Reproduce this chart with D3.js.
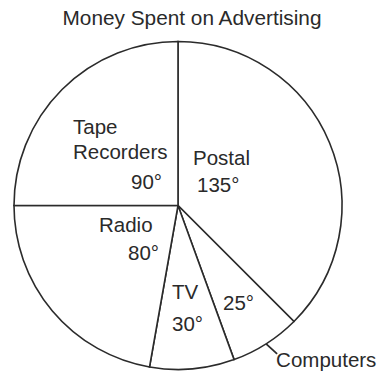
<!DOCTYPE html>
<html>
<head>
<meta charset="utf-8">
<script src="https://cdn.jsdelivr.net/npm/d3@7"></script>
<style>
  html, body { margin: 0; padding: 0; background: #fff; }
  svg text { font-family: "Liberation Sans", Arial, Helvetica, sans-serif; fill: #2a2a2a; }
</style>
</head>
<body>
<svg id="chart" width="377" height="372"></svg>
<script>
// Advertising spend, expressed as sector angles in degrees
const categories = ["Postal", "Computers", "TV", "Radio", "Tape Recorders"];
const degrees = [135, 25, 30, 80, 90];
const title = "Money Spent on Advertising";

// Label layout (offsets from the pie centre, in px)
const labelLayout = {
  "Postal":         [{ t: "Postal", dx: 15, dy: -40.5, a: "start" }, { t: "135°", dx: 19, dy: -13.5, a: "start" }],
  "Computers":      [{ t: "25°", dx: 45, dy: 104.5, a: "start" }],
  "TV":             [{ t: "TV", dx: -6, dy: 93.5, a: "start" }, { t: "30°", dx: -6, dy: 125.5, a: "start" }],
  "Radio":          [{ t: "Radio", dx: -79, dy: 26.5, a: "start" }, { t: "80°", dx: -50, dy: 54.5, a: "start" }],
  "Tape Recorders": [{ t: "Tape", dx: -105, dy: -71.5, a: "start" }, { t: "Recorders", dx: -105, dy: -46.5, a: "start" }, { t: "90°", dx: -16, dy: -16.5, a: "end" }]
};

const svg = d3.select("#chart");
const cx = 178, cy = 205.5, r = 164;

svg.append("text")
  .attr("x", 192).attr("y", 25)
  .attr("text-anchor", "middle")
  .style("font-size", "20.8px")
  .text(title);

const data = categories.map((c, i) => ({ name: c, value: degrees[i] }));
const toRad = d3.scaleLinear().domain([0, 360]).range([0, 2 * Math.PI]);

const pie = d3.pie()
  .sort(null)
  .value(d => d.value)
  .startAngle(0)
  .endAngle(toRad(d3.sum(degrees)));

const arcGen = d3.arc().innerRadius(0).outerRadius(r);

const g = svg.append("g").attr("transform", `translate(${cx},${cy})`);
const arcs = pie(data);

g.selectAll("path.slice")
  .data(arcs)
  .join("path")
  .attr("class", "slice")
  .attr("d", arcGen)
  .attr("fill", "#fff")
  .attr("stroke", "#2b2b2b")
  .attr("stroke-width", 1.6)
  .attr("stroke-linejoin", "miter");

// Labels inside slices
arcs.forEach(a => {
  (labelLayout[a.data.name] || []).forEach(l => {
    g.append("text")
      .attr("x", l.dx).attr("y", l.dy)
      .attr("text-anchor", l.a)
      .style("font-size", "20.5px")
      .text(l.t);
  });
});

// Leader line for the narrow Computers slice
const comp = arcs.find(a => a.data.name === "Computers");
const mid = (comp.startAngle + comp.endAngle) / 2;
const px = r * Math.sin(mid), py = -r * Math.cos(mid);
g.append("line")
  .attr("x1", px).attr("y1", py)
  .attr("x2", px + 11).attr("y2", py + 10)
  .attr("stroke", "#2b2b2b").attr("stroke-width", 1.8);
g.append("text")
  .attr("x", px + 10).attr("y", py + 23)
  .attr("text-anchor", "start")
  .style("font-size", "20.5px")
  .text("Computers");
</script>
</body>
</html>
